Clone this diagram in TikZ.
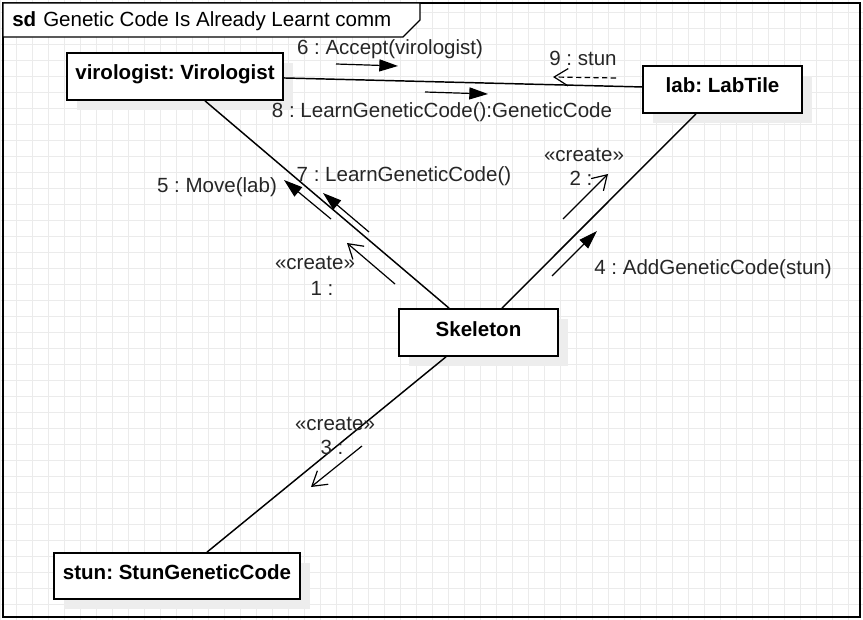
\documentclass[tikz,border=0pt]{standalone}
\usepackage{fontspec}
\setmainfont{Liberation Sans}
\usetikzlibrary{arrows.meta,shadows}
\frenchspacing
\begin{document}
\begin{tikzpicture}[x=0.75pt,y=-0.75pt,
  font=\fontsize{15.4pt}{18pt}\selectfont,
  gridline/.style={draw=black!8, line width=0.6pt},
  obj/.style={draw, line width=1.3pt, fill=white, inner sep=0pt,
    font=\fontsize{15.4pt}{18pt}\selectfont\bfseries,
    text height=11pt, text depth=5.75pt, minimum height=35.25pt,
    general shadow={fill=black!7, shadow xshift=7.5pt, shadow yshift=-7.5pt}},
  conn/.style={line width=1.1pt},
  msg/.style={line width=0.9pt, -{Triangle[length=14pt,width=9pt]}},
  create/.style={line width=0.9pt, -{Straight Barb[length=10.5pt,width=13pt]}},
  lbl/.style={anchor=base, inner sep=0pt, text=black!85}]
\useasboundingbox (0,0) rectangle (863,620);
\fill[white] (0,0) rectangle (863,620);
% grid
\foreach \i in {0,...,54} \draw[gridline] (\i*16,0) -- (\i*16,620);
\foreach \j in {0,...,39} \draw[gridline] (0,\j*16-3.5) -- (863,\j*16-3.5);
% frame
\draw[line width=1pt] (3,3) rectangle (860,617);
\filldraw[fill=white, line width=1pt] (3,3) -- (420,3) -- (420,20) -- (403,37) -- (3,37) -- cycle;
\node[anchor=base west, inner sep=0pt, font=\fontsize{15.4pt}{18pt}\selectfont\bfseries] (sd) at (12,26.5) {sd};
\node[anchor=base west, inner sep=0pt] (title) at (43,26.5) {Genetic Code Is Already Learnt comm};
% objects
\node[obj, minimum width=162pt] (vir) at (175,76.5) {virologist: Virologist};
\node[obj, minimum width=119.25pt] (lab) at (722.5,89.5) {lab: LabTile};
\node[obj, minimum width=119.25pt] (skel) at (478.5,332.5) {Skeleton};
\node[obj, minimum width=184.5pt, minimum height=34.5pt] (stun) at (177,576) {stun: StunGeneticCode};
% links
\draw[conn] ([yshift=-1.1pt]vir.east) -- ([yshift=1.9pt]lab.west);
\draw[conn] ([xshift=22.5pt]vir.south) -- ([xshift=-22.1pt]skel.north);
\draw[conn] ([xshift=-19.9pt]lab.south) -- ([xshift=17.6pt]skel.north);
\draw[conn] ([xshift=-24.4pt]skel.south) -- ([xshift=22.5pt]stun.north);
% message arrows
\coordinate (m6a) at (336,64);  \coordinate (m6b) at (398,66);
\coordinate (m8a) at (425,92);  \coordinate (m8b) at (488,94);
\coordinate (m9a) at (616,78);  \coordinate (m9b) at (553,77);
\coordinate (m5a) at (331,219); \coordinate (m5b) at (284,180);
\coordinate (m7a) at (369,232); \coordinate (m7b) at (323,193);
\coordinate (m1a) at (395,284); \coordinate (m1b) at (347,243);
\coordinate (m2a) at (563,219); \coordinate (m2b) at (608,174);
\coordinate (m4a) at (552,276); \coordinate (m4b) at (597,231);
\coordinate (m3a) at (362,446); \coordinate (m3b) at (311,487);
\draw[msg] (m6a) -- (m6b);
\draw[msg] (m8a) -- (m8b);
\draw[create, dashed, dash pattern=on 4pt off 2.5pt] (m9a) -- (m9b);
\draw[msg] (m5a) -- (m5b);
\draw[msg] (m7a) -- (m7b);
\draw[create] (m1a) -- (m1b);
\draw[create] (m2a) -- (m2b);
\draw[msg] (m4a) -- (m4b);
\draw[create] (m3a) -- (m3b);
% labels
\node[lbl] (l6) at (390,55) {6 : Accept(virologist)};
\node[lbl] (l8) at (442,118) {8 : LearnGeneticCode():GeneticCode};
\node[lbl] (l9) at (583,66) {9 : stun};
\node[lbl] (l5) at (217,193) {5 : Move(lab)};
\node[lbl] (l7) at (404,182) {7 : LearnGeneticCode()};
\node[lbl] (l1s) at (315,269) {«create»};
\node[lbl] (l1) at (322,295) {1 :};
\node[lbl] (l2s) at (584,162) {«create»};
\node[lbl] (l2) at (581,186) {2 :};
\node[lbl] (l4) at (713,274) {4 : AddGeneticCode(stun)};
\node[lbl] (l3s) at (335,430) {«create»};
\node[lbl] (l3) at (332,454) {3 :};
\end{tikzpicture}
\end{document}
